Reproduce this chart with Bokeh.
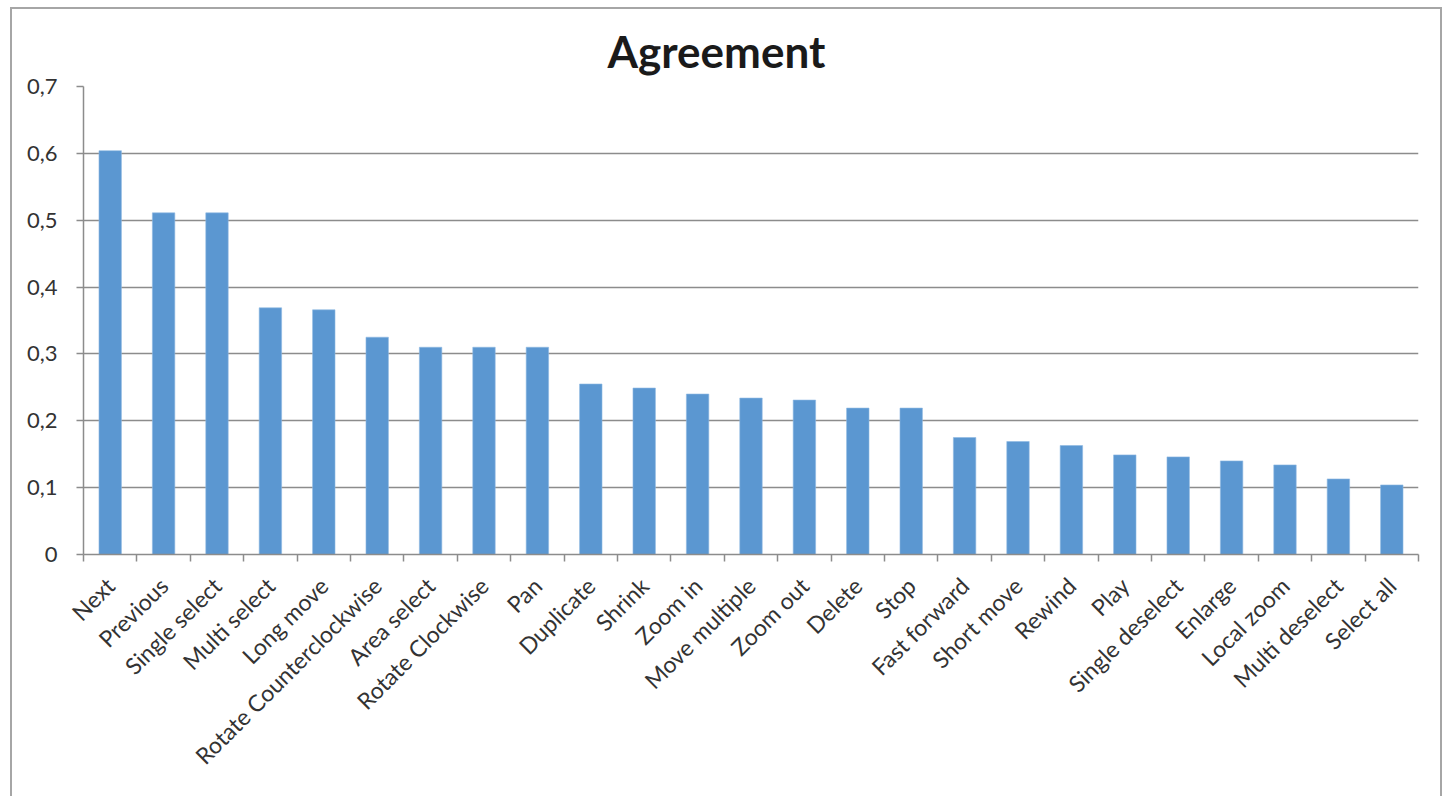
import math
from bokeh.plotting import figure
from bokeh.models import Range1d, FixedTicker, CustomJSTickFormatter
from bokeh.embed import file_html
from bokeh.resources import INLINE

cats = ["Next", "Previous", "Single select", "Multi select", "Long move",
        "Rotate Counterclockwise", "Area select", "Rotate Clockwise", "Pan",
        "Duplicate", "Shrink", "Zoom in", "Move multiple", "Zoom out", "Delete",
        "Stop", "Fast forward", "Short move", "Rewind", "Play", "Single deselect",
        "Enlarge", "Local zoom", "Multi deselect", "Select all"]
values = [0.604, 0.511, 0.511, 0.369, 0.366, 0.325, 0.310, 0.310, 0.310,
          0.255, 0.249, 0.240, 0.234, 0.231, 0.219, 0.219, 0.175, 0.169,
          0.163, 0.149, 0.146, 0.140, 0.134, 0.113, 0.104]
y_ticks = [0, 0.1, 0.2, 0.3, 0.4, 0.5, 0.6, 0.7]
y_tick_labels = ["0", "0,1", "0,2", "0,3", "0,4", "0,5", "0,6", "0,7"]
title_text = "Agreement"

n = len(cats)
xs = [i + 0.5 for i in range(n)]
FONT = "Lato"
GREY = "#8c8c8c"
BORDER = "2px solid #a6a6a6"

p = figure(width=1432, height=789, output_backend="svg", toolbar_location=None,
           x_range=Range1d(0, n), y_range=Range1d(0, 0.7),
           min_border_left=71, min_border_right=26, min_border_top=77,
           min_border_bottom=244,
           styles={"border-top": BORDER, "border-left": BORDER,
                   "border-right": BORDER, "margin-left": "10px",
                   "margin-top": "7px"})

p.vbar(x=xs, top=values, width=0.42, fill_color="#5b97d1", line_color="#8fb8e3",
       line_width=0.6)

p.title.text = title_text
p.title.text_font = FONT
p.title.text_font_size = "44px"
p.title.text_font_style = "bold"
p.title.text_color = "#1a1a1a"
p.title.align = "left"
p.title.offset = 524
p.title.standoff = 19

p.outline_line_color = None
p.xgrid.grid_line_color = None
p.ygrid.grid_line_color = GREY
p.ygrid.grid_line_width = 1.5
p.ygrid.ticker = FixedTicker(ticks=y_ticks)

xa = p.xaxis[0]
xa.ticker = FixedTicker(ticks=xs, minor_ticks=list(range(n + 1)))
xa.formatter = CustomJSTickFormatter(args=dict(labels=cats),
                                     code="return labels[Math.floor(tick)] || '';")
xa.major_tick_line_color = None
xa.major_tick_out = 7
xa.major_tick_in = 0
xa.minor_tick_line_color = GREY
xa.minor_tick_line_width = 1.5
xa.minor_tick_out = 7
xa.minor_tick_in = 0
xa.axis_line_color = GREY
xa.axis_line_width = 1.5
xa.major_label_orientation = math.pi / 4
xa.major_label_text_font = FONT
xa.major_label_text_font_size = "23px"
xa.major_label_text_color = "#333333"
xa.major_label_standoff = 20

ya = p.yaxis[0]
ya.ticker = FixedTicker(ticks=y_ticks, minor_ticks=[])
ya.formatter = CustomJSTickFormatter(args=dict(labels=y_tick_labels),
                                     code="return labels[Math.round(tick*10)];")
ya.major_tick_line_color = GREY
ya.major_tick_line_width = 1.5
ya.major_tick_out = 7
ya.major_tick_in = 0
ya.axis_line_color = GREY
ya.axis_line_width = 1.5
ya.major_label_text_font = FONT
ya.major_label_text_font_size = "22px"
ya.major_label_text_color = "#333333"
ya.major_label_standoff = 19

open("out.html", "w").write(file_html(p, INLINE))
